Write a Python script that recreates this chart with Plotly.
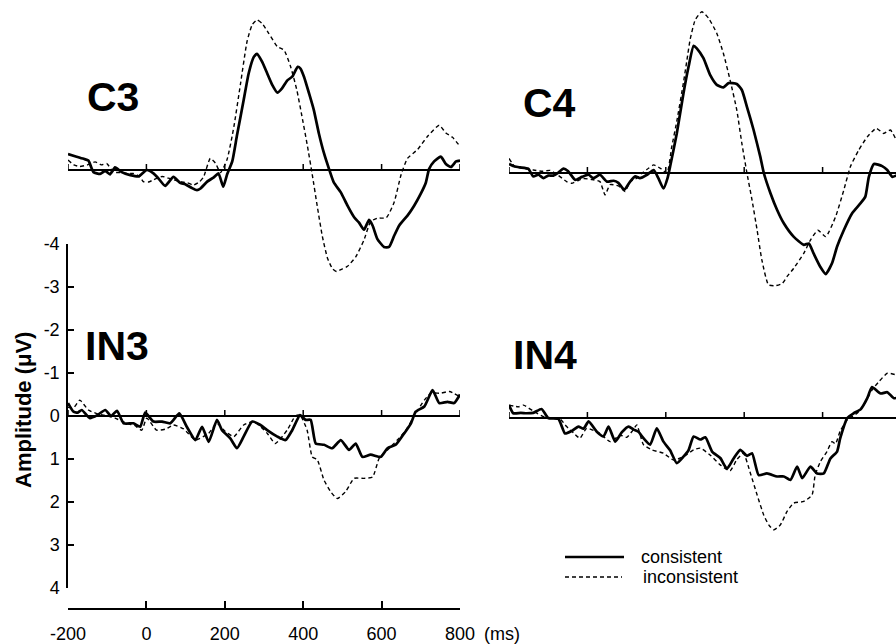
import plotly.graph_objects as go

# ---------------- data (time in ms, amplitude in microvolts; negative plotted up) ----------------
c3_con_t = [-200,-178,-160,-148,-135,-118,-105,-93,-80,-63,-41,-20,1,18,31,48,69,86,99,116,129,138,155,172,184,196,206,219,231,248,261,274,282,295,308,321,334,346,359,372,386,393,402,415,427,440,453,466,478,496,513,530,542,555,568,577,589,606,619,632,645,666,683,700,713,721,734,751,764,777,790,800]
c3_con_v = [-0.37,-0.31,-0.26,-0.22,0.05,0.09,0.02,0.1,-0.06,0.05,0.12,0.15,0.0,0.08,0.2,0.37,0.16,0.3,0.33,0.42,0.47,0.43,0.27,0.17,0.08,0.39,0.1,-0.2,-0.8,-1.62,-2.25,-2.63,-2.7,-2.52,-2.25,-1.98,-1.8,-1.9,-2.08,-2.17,-2.4,-2.36,-2.17,-1.78,-1.4,-0.85,-0.39,-0.02,0.29,0.52,0.83,1.1,1.22,1.39,1.16,1.29,1.6,1.79,1.79,1.53,1.29,1.06,0.83,0.55,0.29,-0.02,-0.2,-0.31,-0.14,-0.07,-0.2,-0.22]

c3_inc_t = [-200,-185,-170,-150,-131,-115,-101,-84,-65,-50,-34,-16,-8,5,18,40,60,86,105,120,135,146,163,176,189,206,223,240,257,270,282,295,312,334,351,368,384,397,410,423,436,449,462,475,485,500,513,534,555,572,589,612,632,650,666,692,717,747,764,781,800]
c3_inc_v = [-0.23,-0.12,-0.08,-0.12,-0.19,-0.12,-0.15,0.05,0.06,0.08,0.08,0.16,0.27,0.28,0.23,0.15,0.2,0.27,0.3,0.35,0.28,0.16,-0.27,-0.16,0.06,-0.25,-1.0,-2.0,-3.0,-3.38,-3.49,-3.41,-3.18,-2.87,-2.79,-2.4,-1.85,-1.24,-0.6,0.1,0.85,1.55,2.05,2.3,2.36,2.3,2.24,2.02,1.63,1.2,1.12,1.11,0.75,0.1,-0.27,-0.48,-0.78,-1.04,-0.86,-0.76,-0.55]

c4_con_t = [-200,-185,-172,-151,-138,-125,-112,-100,-87,-74,-61,-49,-31,-14,3,15,32,50,67,79,94,109,122,134,152,169,181,194,205,211,228,245,258,271,279,296,313,330,347,360,381,394,407,424,441,450,467,484,501,526,552,565,577,594,608,624,637,654,675,697,709,718,731,752,765,778,800]
c4_con_v = [-0.21,-0.15,-0.13,-0.1,0.08,0.04,0.12,0.06,0.06,-0.01,-0.1,-0.04,0.16,0.09,0.04,0.12,0.04,0.2,0.18,0.23,0.39,0.2,0.08,0.12,0.04,-0.07,0.12,0.36,0.1,-0.15,-0.92,-1.85,-2.47,-2.96,-2.9,-2.67,-2.28,-2.05,-1.99,-2.09,-2.07,-1.93,-1.54,-1.0,-0.38,0.0,0.47,0.86,1.17,1.48,1.67,1.64,1.87,2.18,2.35,2.1,1.71,1.33,0.94,0.7,0.55,0.09,-0.21,-0.16,-0.07,0.09,0.0]

c4_inc_t = [-200,-185,-160,-138,-115,-95,-75,-53,-40,-25,-10,10,32,45,58,79,96,109,126,140,156,169,186,203,215,228,245,254,262,275,292,309,330,347,364,381,394,407,420,433,445,462,480,497,510,526,552,569,588,608,633,654,671,692,714,737,756,773,790,800]
c4_inc_v = [-0.34,-0.15,-0.1,-0.07,-0.04,-0.06,0.05,0.2,0.24,0.18,0.13,0.15,0.2,0.51,0.27,0.3,0.43,0.2,0.12,0.0,-0.11,-0.19,-0.11,0.0,-0.6,-1.2,-2.1,-2.63,-3.1,-3.56,-3.75,-3.6,-3.25,-2.78,-2.16,-1.47,-0.69,0.0,0.63,1.33,2.02,2.6,2.62,2.57,2.4,2.22,1.87,1.56,1.33,1.48,1.02,0.4,-0.15,-0.53,-0.84,-1.04,-0.92,-1.0,-0.73,-0.6]

in3_con_t = [-200,-186,-175,-165,-144,-125,-105,-90,-75,-58,-33,-16,-3,18,40,61,84,103,125,142,159,180,193,214,231,248,270,291,308,334,355,372,392,406,419,432,453,474,496,517,534,551,572,598,615,636,658,675,687,709,730,747,768,785,800]
in3_con_v = [-0.3,-0.1,-0.08,-0.14,0.05,-0.02,-0.14,0.0,-0.12,0.17,0.17,0.25,-0.08,0.13,0.13,0.17,-0.06,0.25,0.56,0.25,0.6,0.09,0.33,0.52,0.75,0.48,0.13,0.21,0.33,0.48,0.56,0.33,-0.02,0.09,0.09,0.64,0.67,0.75,0.56,0.79,0.64,0.95,0.9,0.95,0.75,0.67,0.4,0.17,-0.1,-0.22,-0.6,-0.3,-0.33,-0.3,-0.5]

in3_inc_t = [-200,-185,-170,-148,-125,-100,-80,-50,-30,-12,1,26,50,69,95,125,159,180,200,223,248,274,308,329,359,380,392,410,423,436,453,470,487,508,530,555,577,594,615,640,662,683,709,726,751,773,800]
in3_inc_v = [-0.2,-0.2,-0.37,-0.14,-0.05,0.0,0.05,0.17,0.22,0.33,0.05,0.33,0.3,0.21,0.3,0.56,0.4,0.17,0.35,0.48,0.21,0.13,0.4,0.64,0.33,0.0,-0.02,0.33,0.95,1.02,1.49,1.76,1.92,1.76,1.45,1.45,1.42,0.98,0.79,0.56,0.33,0.0,-0.37,-0.53,-0.53,-0.57,-0.45]

in4_con_t = [-200,-189,-170,-155,-138,-117,-100,-74,-57,-40,-23,-10,3,24,41,54,71,88,105,118,130,143,160,177,194,211,228,245,258,271,288,301,318,339,356,373,390,407,420,437,458,484,501,518,535,548,569,586,603,620,637,645,663,679,697,714,726,748,765,782,800]
in4_con_v = [-0.3,-0.11,-0.12,-0.11,-0.12,-0.21,0.0,0.02,0.36,0.3,0.2,0.25,0.08,0.32,0.43,0.2,0.55,0.33,0.2,0.27,0.32,0.47,0.62,0.24,0.55,0.75,1.05,0.9,0.75,0.43,0.5,0.45,0.78,0.93,1.18,0.94,0.74,0.88,0.82,1.33,1.29,1.36,1.36,1.44,1.13,1.4,1.13,1.29,1.29,0.94,0.78,0.47,0.0,-0.11,-0.2,-0.46,-0.72,-0.57,-0.6,-0.46,-0.5]

in4_inc_t = [-200,-176,-163,-138,-104,-70,-53,-35,-19,-2,32,58,84,100,115,126,143,164,194,220,245,271,288,313,339,364,381,398,416,433,450,463,475,492,509,526,552,573,581,594,611,624,633,645,663,688,705,726,743,765,789,800]
in4_inc_v = [-0.3,-0.26,-0.3,-0.16,0.0,0.02,0.2,0.35,0.47,0.24,0.36,0.55,0.4,0.45,0.3,0.16,0.62,0.74,0.82,0.98,0.9,0.74,0.7,0.86,1.09,1.23,0.97,0.82,1.29,1.79,2.26,2.49,2.6,2.49,2.18,1.98,1.94,1.79,1.33,1.02,0.78,0.55,0.6,0.3,0.04,-0.11,-0.3,-0.65,-0.84,-1.04,-1.0,-0.95]

x_ticks = [-200, 0, 200, 400, 600, 800]
x_tick_labels = ["-200", "0", "200", "400", "600", "800"]
y_ticks = [-4, -3, -2, -1, 0, 1, 2, 3, 4]
y_tick_labels = ["-4", "-3", "-2", "-1", "0", "1", "2", "3", "4"]
panel_names = ["C3", "C4", "IN3", "IN4"]
legend_labels = ["consistent", "inconsistent"]

# ---------------- layout geometry (pixels) ----------------
W, H = 896, 644
PX_PER_UV = 43.0
PX_PER_MS = 0.392
FONT = "Liberation Sans, Arial, Helvetica, sans-serif"

def fx(px):
    return px / W

def fy(py):
    return 1 - py / H

# panel: x-left px, x-right px, baseline py, domain top py, domain bottom py
geo = {
    "C3":  dict(xl=68,  xr=68 + 1000 * PX_PER_MS, base=170, top=4,   bot=300, lx=87,  ly=97),
    "C4":  dict(xl=509, xr=896,                   base=173, top=4,   bot=300, lx=523, ly=103),
    "IN3": dict(xl=68,  xr=68 + 1000 * PX_PER_MS, base=416, top=244, bot=588, lx=85,  ly=346),
    "IN4": dict(xl=509, xr=896,                   base=418, top=310, bot=600, lx=513, ly=355),
}
axis_ids = {"C3": "2", "C4": "3", "IN3": "", "IN4": "4"}
series = {
    "C3": (c3_con_t, c3_con_v, c3_inc_t, c3_inc_v),
    "C4": (c4_con_t, c4_con_v, c4_inc_t, c4_inc_v),
    "IN3": (in3_con_t, in3_con_v, in3_inc_t, in3_inc_v),
    "IN4": (in4_con_t, in4_con_v, in4_inc_t, in4_inc_v),
}

fig = go.Figure()
layout = dict(
    template="none",
    width=W, height=H, margin=dict(l=0, r=0, t=0, b=0, autoexpand=False),
    paper_bgcolor="white", plot_bgcolor="rgba(0,0,0,0)",
    showlegend=False, font=dict(family=FONT, size=18, color="black"),
)
shapes = []
annotations = []

for name in panel_names:
    g = geo[name]
    aid = axis_ids[name]
    xa = "x" + aid
    ya = "y" + aid
    x_end = -200 + (g["xr"] - g["xl"]) / PX_PER_MS
    y_lo = (g["bot"] - g["base"]) / PX_PER_UV
    y_hi = -(g["base"] - g["top"]) / PX_PER_UV
    ct, cv, it, iv = series[name]
    fig.add_trace(go.Scatter(x=it, y=iv, xaxis=xa, yaxis=ya, mode="lines",
                             line=dict(color="black", width=1.4, dash="4px,3px", shape="spline", smoothing=0.5),
                             hoverinfo="skip"))
    fig.add_trace(go.Scatter(x=ct, y=cv, xaxis=xa, yaxis=ya, mode="lines",
                             line=dict(color="black", width=2.7, shape="spline", smoothing=0.5),
                             hoverinfo="skip"))
    xkey = "xaxis" + aid
    ykey = "yaxis" + aid
    layout[xkey] = dict(domain=[fx(g["xl"]), fx(g["xr"])], range=[-200, x_end],
                        anchor=ya, visible=False, fixedrange=True, automargin=False)
    layout[ykey] = dict(domain=[fy(g["bot"]), fy(g["top"])], range=[y_lo, y_hi],
                        anchor=xa, visible=True, showline=False, ticks="", showticklabels=False,
                        fixedrange=True, automargin=False,
                        zeroline=True, zerolinecolor="black", zerolinewidth=2, showgrid=False)
    # baseline ticks
    for t in x_ticks:
        if t <= x_end:
            shapes.append(dict(type="line", xref=xa, yref=ya, x0=t, x1=t, y0=0, y1=-6 / PX_PER_UV,
                               line=dict(color="black", width=1.5)))
    annotations.append(dict(text="<b>%s</b>" % name, xref="paper", yref="paper",
                            x=fx(g["lx"] - 2), xanchor="left",
                            y=fy(g["ly"]), yanchor="middle",
                            showarrow=False, font=dict(size=41, family=FONT, color="black")))

# the visible axes belong to IN3
layout["yaxis"].update(showline=True, linecolor="black", linewidth=1.5,
                       ticks="inside", ticklen=6, tickwidth=1.5, tickcolor="black",
                       tickvals=y_ticks, ticktext=y_tick_labels, showticklabels=True,
                       tickfont=dict(size=18, family=FONT), ticklabelstandoff=3)
layout["xaxis"].update(visible=True, anchor="free", position=fy(609), showline=True,
                       linecolor="black", linewidth=1.5, ticks="inside", ticklen=7, tickwidth=1.5,
                       tickcolor="black", tickvals=x_ticks, ticktext=x_tick_labels,
                       tickfont=dict(size=18, family=FONT), showgrid=False, zeroline=False,
                       ticklabelstandoff=9)

annotations.append(dict(text="(ms)", xref="paper", yref="paper", x=fx(482), xanchor="left",
                        y=fy(634), yanchor="middle", showarrow=False, font=dict(size=18, family=FONT)))
annotations.append(dict(text="<b>Amplitude (μV)</b>", xref="paper", yref="paper", x=fx(23), xanchor="center",
                        y=fy(410), yanchor="middle", textangle=-90, showarrow=False,
                        font=dict(size=22, family=FONT)))

# legend
shapes.append(dict(type="line", xref="paper", yref="paper", x0=fx(565), x1=fx(624), y0=fy(557), y1=fy(557),
                   line=dict(color="black", width=2.7)))
shapes.append(dict(type="line", xref="paper", yref="paper", x0=fx(565), x1=fx(622), y0=fy(577), y1=fy(577),
                   line=dict(color="black", width=1.4, dash="4px,3px")))
annotations.append(dict(text=legend_labels[0], xref="paper", yref="paper", x=fx(639), xanchor="left",
                        y=fy(557), yanchor="middle", showarrow=False, font=dict(size=18, family=FONT)))
annotations.append(dict(text=legend_labels[1], xref="paper", yref="paper", x=fx(641), xanchor="left",
                        y=fy(577), yanchor="middle", showarrow=False, font=dict(size=18, family=FONT)))

layout["shapes"] = shapes
layout["annotations"] = annotations
fig.update_layout(**layout)
fig.write_html("out.html", config={"displayModeBar": False},
               post_script="document.body.style.margin='0px';document.body.style.overflow='hidden';")
